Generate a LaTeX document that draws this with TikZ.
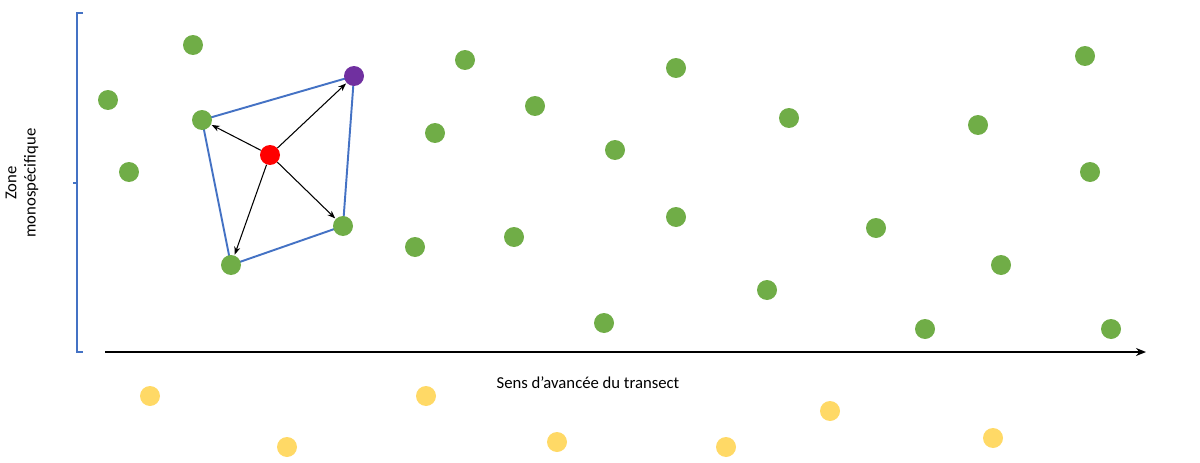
\documentclass[tikz,border=0pt]{standalone}
\usepackage{fontspec}
\setmainfont{Carlito}
\usepackage{xcolor}
\definecolor{leaf}{HTML}{70AD47}
\definecolor{sun}{HTML}{FFD966}
\definecolor{plum}{HTML}{7030A0}
\definecolor{hull}{HTML}{4472C4}
\usetikzlibrary{arrows.meta,positioning,backgrounds}
\tikzset{
  >={Stealth[length=1.6mm,width=1.2mm]},
  dot/.style    ={circle,inner sep=0pt,minimum size=4mm,draw=none},
  gdot/.style   ={dot,fill=leaf},
  ydot/.style   ={dot,fill=sun},
  rdot/.style   ={dot,fill=red},
  pdot/.style   ={dot,fill=plum},
  hullline/.style={draw=hull,line width=1.1pt},
  nb/.style     ={->,draw=black,line width=0.6pt,shorten >=0.3pt},
  axis/.style   ={-{Stealth[length=2mm,width=1.6mm]},draw=black,line width=1.1pt},
  lbl/.style    ={font=\fontsize{9.5}{11}\selectfont,inner sep=1pt,align=center},
}

\begin{document}
\begin{tikzpicture}[x=0.02cm,y=-0.02cm]
\useasboundingbox (0,0) rectangle (1200,463);

%================= zone brace
\draw[hullline,line width=0.9pt] (83,13) -- (77,13) -- (77,183) -- (73,183) -- (77,183) -- (77,352) -- (83,352);
\node[lbl,rotate=90] (zone) at (22,183) {Zone\\monosp\'ecifique};

%================= transect axis
\coordinate (ax0) at (105,352);
\coordinate (ax1) at (1146,352);
\draw[axis] (ax0) -- (ax1);
\node[lbl] (sens) at (588,383) {Sens d'avancée du transect};

%================= green plants
\foreach \x/\y [count=\i] in {193/45, 108/100, 129/172, 465/60, 435/133, 535/106,
  415/247, 514/237, 615/150, 676/68, 676/217, 604/323, 767/290, 789/118,
  876/228, 978/125, 1001/265, 925/329, 1085/56, 1090/172, 1111/329}
 {\node[gdot] (g\i) at (\x,\y) {};}

%================= neighbours of the focal plant
\node[gdot] (nw) at (202,120) {};
\node[pdot] (ne) at (354,76) {};
\node[gdot] (se) at (343,226) {};
\node[gdot] (sw) at (231,265) {};
\node[rdot] (focal) at (270,155) {};

\begin{scope}[on background layer]
\draw[hullline] (nw.center) -- (ne.center) -- (se.center) -- (sw.center) -- cycle;
\end{scope}
\foreach \nm in {nw,ne,se,sw}
 {\draw[nb] (focal) -- (\nm);}

%================= yellow plants (outside the zone)
\foreach \x/\y [count=\i] in {150/396, 426/396, 287/447, 557/442, 726/447, 830/411, 993/438}
 {\node[ydot] (y\i) at (\x,\y) {};}
\end{tikzpicture}
\end{document}
